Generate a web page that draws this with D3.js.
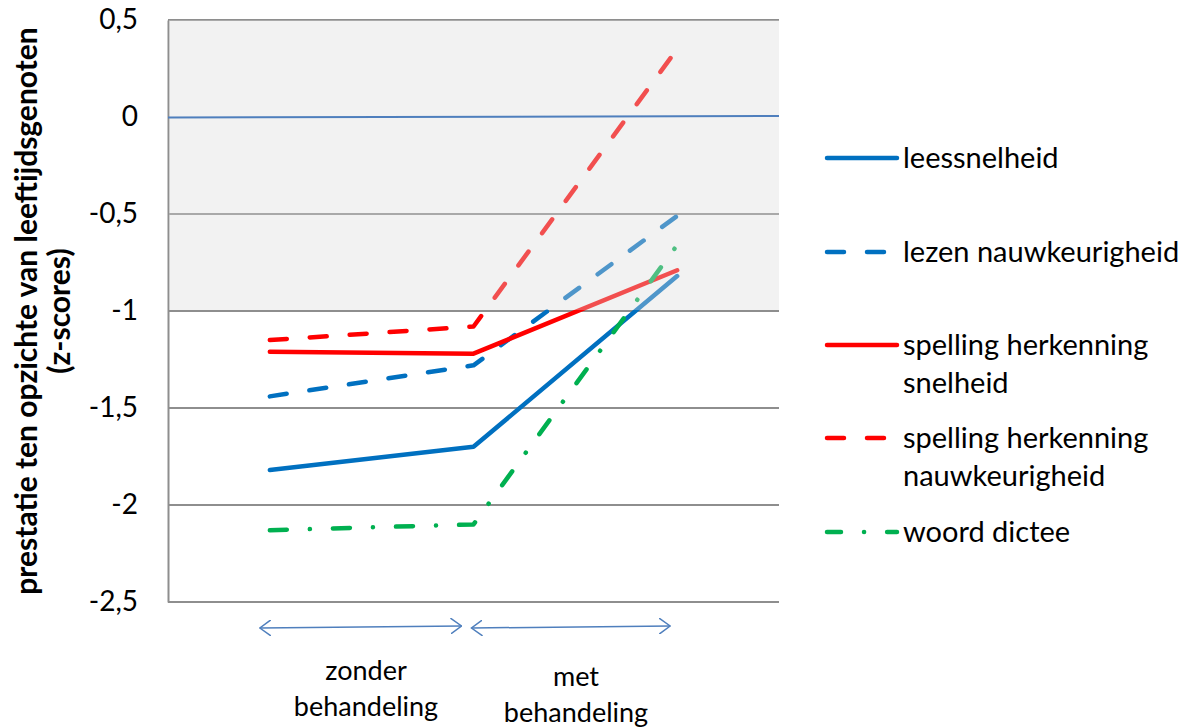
<!DOCTYPE html>
<html>
<head>
<meta charset="utf-8">
<script src="https://cdn.jsdelivr.net/npm/d3@7"></script>
<style>
  body { margin: 0; background: #fff; }
  svg { font-family: Lato, "Open Sans", sans-serif; }
</style>
</head>
<body>
<script>
// measurement moments (three points per series)
var moments = ["start", "na zonder", "na met"];

var leessnelheid = [-1.82, -1.70, -0.82];
var lezenNauwkeurigheid = [-1.44, -1.28, -0.51];
var spellingSnelheid = [-1.21, -1.22, -0.79];
var spellingNauwkeurigheid = [-1.15, -1.08, 0.35];
var woordDictee = [-2.13, -2.10, -0.66];

var seriesNames = [
    ["leessnelheid"],
    ["lezen nauwkeurigheid"],
    ["spelling herkenning", "snelheid"],
    ["spelling herkenning", "nauwkeurigheid"],
    ["woord dictee"]
];
var seriesValues = [leessnelheid, lezenNauwkeurigheid, spellingSnelheid, spellingNauwkeurigheid, woordDictee];
var seriesColors = ["#0070c0", "#0070c0", "#ff0000", "#ff0000", "#00b050"];
var seriesDash = [null, "17,23", null, "17,23", "17,23,0.1,23"];

var yTicks = [0.5, 0, -0.5, -1, -1.5, -2, -2.5];
var periodLabels = [["zonder", "behandeling"], ["met", "behandeling"]];

var width = 1194, height = 727;
var plot = {left: 168, right: 779, top: 20, bottom: 602};

var svg = d3.select("body").append("svg")
    .attr("width", width)
    .attr("height", height);

var x = d3.scalePoint()
    .domain(moments)
    .range([plot.left, plot.right])
    .padding(0.5);

var y = d3.scaleLinear()
    .domain([-2.5, 0.5])
    .range([plot.bottom, plot.top]);

// gridlines
svg.append("g")
    .selectAll("line")
    .data(yTicks.filter(function (d) { return d !== 0; }))
    .enter().append("line")
    .attr("x1", plot.left)
    .attr("x2", plot.right)
    .attr("y1", function (d) { return y(d); })
    .attr("y2", function (d) { return y(d); })
    .style("stroke", "#8e8e8e")
    .style("stroke-width", 2);

// y axis
var yAxis = d3.axisLeft(y)
    .tickValues(yTicks)
    .tickSize(0)
    .tickPadding(30)
    .tickFormat(function (d) { return String(d).replace(".", ","); });

var gy = svg.append("g")
    .attr("transform", "translate(" + plot.left + ",0)")
    .call(yAxis);
gy.select(".domain").style("stroke", "#8e8e8e").style("stroke-width", 2);
gy.selectAll("text")
    .style("font-family", "Lato, sans-serif")
    .style("font-size", "28px")
    .style("fill", "#000");

// series lines
var line = d3.line()
    .x(function (d, i) { return x(moments[i]); })
    .y(function (d) { return y(d); });

svg.append("g")
    .selectAll("path")
    .data(seriesValues)
    .enter().append("path")
    .attr("d", function (d) { return line(d); })
    .style("fill", "none")
    .style("stroke", function (d, i) { return seriesColors[i]; })
    .style("stroke-width", 4.5)
    .style("stroke-linecap", "round")
    .style("stroke-linejoin", "round")
    .style("stroke-dasharray", function (d, i) { return seriesDash[i]; });

// translucent grey band above -1
svg.append("rect")
    .attr("x", plot.left + 1)
    .attr("y", y(0.5))
    .attr("width", plot.right - plot.left - 1)
    .attr("height", y(-1) - y(0.5) - 1)
    .style("fill", "#dbdbdb")
    .style("fill-opacity", 0.36);

// zero line
svg.append("line")
    .attr("x1", plot.left)
    .attr("x2", plot.right)
    .attr("y1", y(0) + 0.5)
    .attr("y2", y(0) - 1)
    .style("stroke", "#4f7fbd")
    .style("stroke-width", 2);

// y axis title
var title = svg.append("text")
    .attr("transform", "translate(37," + 311 + ") rotate(-90)")
    .style("text-anchor", "middle")
    .style("font-weight", "bold")
    .style("font-size", "30px");
title.append("tspan").attr("x", 0).attr("dy", 0).text("prestatie ten opzichte van leeftijdsgenoten");
title.append("tspan").attr("x", 0).attr("dy", 33).text("(z-scores)");

// period arrows
var defs = svg.append("defs");
defs.append("marker")
    .attr("id", "arr")
    .attr("viewBox", "0 0 12 16")
    .attr("refX", 11)
    .attr("refY", 8)
    .attr("markerWidth", 12)
    .attr("markerHeight", 16)
    .attr("markerUnits", "userSpaceOnUse")
    .attr("orient", "auto-start-reverse")
    .append("path")
    .attr("d", "M0,0 L11,8 L0,16")
    .style("fill", "none")
    .style("stroke", "#4f7fbd")
    .style("stroke-width", 1.5);

var arrowSpans = [[moments[0], moments[1]], [moments[1], moments[2]]];
svg.append("g")
    .selectAll("line")
    .data(arrowSpans)
    .enter().append("line")
    .attr("x1", function (d, i) { return x(d[0]) - 10 + (i ? 8 : 0); })
    .attr("x2", function (d, i) { return x(d[1]) - 12 + (i ? 5 : 0); })
    .attr("y1", 628)
    .attr("y2", 626)
    .style("stroke", "#4f7fbd")
    .style("stroke-width", 1.5)
    .attr("marker-start", "url(#arr)")
    .attr("marker-end", "url(#arr)");

var labelG = svg.append("g")
    .selectAll("text")
    .data(periodLabels)
    .enter().append("text")
    .attr("x", function (d, i) { return i ? 576 : 366; })
    .attr("y", function (d, i) { return i ? 686 : 680; })
    .style("text-anchor", "middle")
    .style("font-size", "27px");
labelG.append("tspan")
    .attr("x", function (d, i) { return i ? 576 : 366; })
    .text(function (d) { return d[0]; });
labelG.append("tspan")
    .attr("x", function (d, i) { return i ? 576 : 366; })
    .attr("dy", 36)
    .text(function (d) { return d[1]; });

// legend
var legendY = [158, 252, 345, 438, 532];
var legend = svg.append("g")
    .selectAll("g")
    .data(seriesNames)
    .enter().append("g")
    .attr("transform", function (d, i) { return "translate(827," + legendY[i] + ")"; });

legend.append("line")
    .attr("x1", 0)
    .attr("x2", 70)
    .attr("y1", 0)
    .attr("y2", 0)
    .style("stroke", function (d, i) { return seriesColors[i]; })
    .style("stroke-width", 4.5)
    .style("stroke-linecap", "round")
    .style("stroke-dasharray", function (d, i) { return i === 4 ? "14,23,0.1,23" : seriesDash[i]; });

var legendText = legend.append("text")
    .attr("x", 76)
    .attr("y", 10)
    .style("font-size", "29px")
    .style("fill", "#000");
legendText.selectAll("tspan")
    .data(function (d) { return d; })
    .enter().append("tspan")
    .attr("x", 76)
    .attr("dy", function (d, i) { return i ? 38 : 0; })
    .text(function (d) { return d; });
</script>
</body>
</html>
